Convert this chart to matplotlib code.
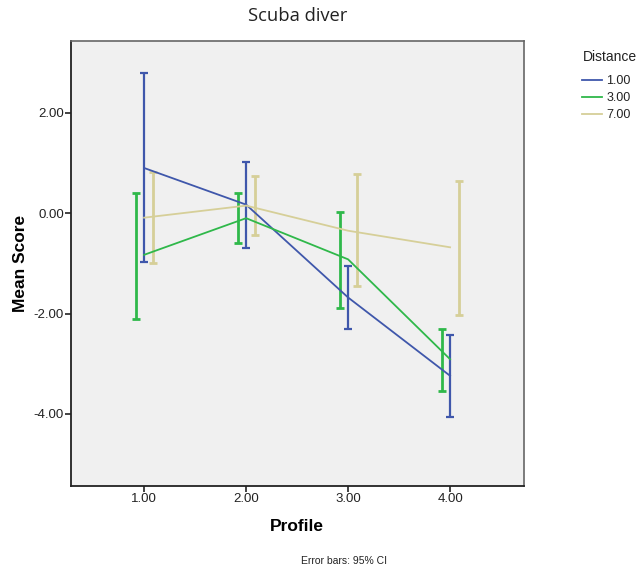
import matplotlib
matplotlib.use('Agg')
import matplotlib.pyplot as plt
import numpy as np

# Mean score and 95% CI per profile, one series per distance
profiles = [1, 2, 3, 4]
profile_labels = ['1.00', '2.00', '3.00', '4.00']
distances = ['1.00', '3.00', '7.00']

mean_d1 = [0.90, 0.17, -1.68, -3.24]
low_d1 = [-0.98, -0.69, -2.30, -4.07]
high_d1 = [2.79, 1.01, -1.05, -2.43]

mean_d3 = [-0.83, -0.10, -0.92, -2.91]
low_d3 = [-2.10, -0.60, -1.88, -3.55]
high_d3 = [0.41, 0.41, 0.03, -2.30]

mean_d7 = [-0.09, 0.15, -0.35, -0.68]
low_d7 = [-1.00, -0.43, -1.46, -2.02]
high_d7 = [0.82, 0.75, 0.78, 0.65]

y_ticks = [2, 0, -2, -4]

colores = ['#3f57ab', '#2fb84a', '#d6cf98']
desplaz = [0.0, -0.08, 0.085]
grosor_barra = [1.6, 2.0, 2.0]

fig = plt.figure(figsize=(6.43, 5.71), dpi=100)
ax = fig.add_axes([70.7 / 643, 1 - 485.7 / 571, (524 - 70.7) / 643, (485.7 - 41) / 571])
ax.set_facecolor('#f0f0f0')

series = [(mean_d1, low_d1, high_d1), (mean_d3, low_d3, high_d3), (mean_d7, low_d7, high_d7)]
for (medias, bajos, altos), col, dx, lw, nombre in zip(series, colores, desplaz, grosor_barra, distances):
    x = np.array(profiles, dtype=float)
    ax.plot(x, medias, color=col, lw=1.3, label=nombre, zorder=3)
    ax.vlines(x + dx, bajos, altos, color=col, lw=lw, zorder=2)
    ax.hlines(bajos, x + dx - 0.04, x + dx + 0.04, color=col, lw=lw, zorder=2)
    ax.hlines(altos, x + dx - 0.04, x + dx + 0.04, color=col, lw=lw, zorder=2)

ax.set_xlim(0.28, 4.725)
ax.set_ylim(-5.43, 3.43)
ax.set_xticks(profiles)
ax.set_xticklabels(profile_labels)
ax.set_yticks(y_ticks)
ax.set_yticklabels(['%.2f' % v for v in y_ticks])
ax.tick_params(direction='out', length=4, width=1.2, color='#222222',
               labelsize=9.5, labelcolor='#222222', pad=1)
for lado in ['left', 'bottom']:
    ax.spines[lado].set_color('#222222')
    ax.spines[lado].set_linewidth(1.3)
for lado in ['top', 'right']:
    ax.spines[lado].set_color('#666666')
    ax.spines[lado].set_linewidth(1.2)

for t in ax.get_xticklabels() + ax.get_yticklabels():
    t.set_family('Liberation Sans')

ax.set_xlabel('Profile', family='Liberation Sans', fontweight='bold', fontsize=12.5, labelpad=10)
ax.set_ylabel('Mean Score', family='Liberation Sans', fontweight='bold', fontsize=12.5, labelpad=4)

fig.text(298 / 643, 1 - 16 / 571, 'Scuba diver', ha='center', va='center',
         family='Open Sans', fontsize=13.2, color='#222222')
fig.text(344 / 643, 1 - 561 / 571, 'Error bars: 95% CI', ha='center', va='center',
         family='Liberation Sans', fontsize=7.5, color='#222222')

# leyenda: titulo aparte para dejar el hueco grande hasta las entradas
fig.text(583 / 643, 1 - 57 / 571, 'Distance', ha='left', va='center',
         family='Liberation Sans', fontsize=10, color='#222222')
leg = fig.legend(loc='upper left', bbox_to_anchor=(582 / 643, 1 - 75 / 571),
                 frameon=False, prop={'family': 'Liberation Sans', 'size': 9},
                 handlelength=1.6, handletextpad=0.35, labelspacing=0.4,
                 borderpad=0.0, borderaxespad=0.0)
for t in leg.get_texts():
    t.set_color('#222222')

fig.savefig('out.png', dpi=100)
